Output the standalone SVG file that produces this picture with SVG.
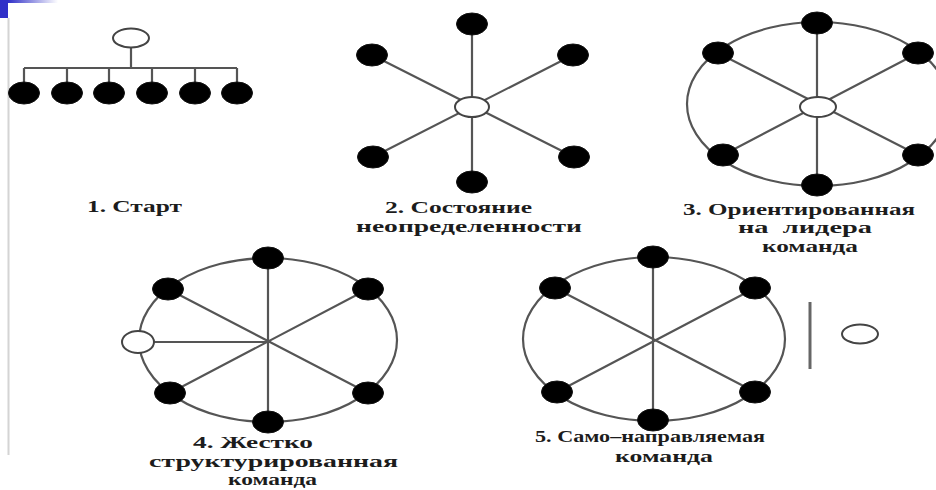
<svg xmlns="http://www.w3.org/2000/svg" width="936" height="490" viewBox="0 0 936 490">
<defs>
<linearGradient id="bar" x1="0" y1="0" x2="1" y2="0">
<stop offset="0" stop-color="#3030c8"/>
<stop offset="1" stop-color="#3030c8" stop-opacity="0"/>
</linearGradient>
</defs>
<style>
.blk{fill:#000;stroke:#111;stroke-width:1}
.wht{fill:#fff;stroke:#444;stroke-width:2}
.ln{stroke:#555;stroke-width:2.2;fill:none}
.rim{stroke:#555;stroke-width:2.2;fill:none}
.lbl{font-family:"Liberation Serif","DejaVu Serif",serif;font-weight:bold;font-size:16px;fill:#1c1c1c}
</style>
<rect x="0" y="0" width="936" height="490" fill="#fff"/>
<rect x="0" y="0" width="8" height="18" fill="#3030c8"/>
<rect x="8" y="0" width="50" height="3" fill="url(#bar)"/>
<line x1="8.5" y1="18" x2="8.5" y2="455" stroke="#d4d4d4" stroke-width="2"/>

<!-- Diagram 1 -->
<g id="d1-connectors">
<path class="ln" d="M131 47 V68 M24 68 H237 M24 68 V83 M67 68 V83 M109 68 V83 M152 68 V83 M195 68 V83 M237 68 V83"/>
</g>
<g id="d1-leader"><ellipse class="wht" cx="131" cy="38" rx="18" ry="9.5"/></g>
<g id="d1-n1"><ellipse class="blk" cx="24" cy="93" rx="15.5" ry="11"/></g>
<g id="d1-n2"><ellipse class="blk" cx="67" cy="93" rx="15.5" ry="11"/></g>
<g id="d1-n3"><ellipse class="blk" cx="109" cy="93" rx="15.5" ry="11"/></g>
<g id="d1-n4"><ellipse class="blk" cx="152" cy="93" rx="15.5" ry="11"/></g>
<g id="d1-n5"><ellipse class="blk" cx="195" cy="93" rx="15.5" ry="11"/></g>
<g id="d1-n6"><ellipse class="blk" cx="237" cy="93" rx="15.5" ry="11"/></g>
<text class="lbl" x="87" y="212" textLength="95" lengthAdjust="spacingAndGlyphs">1. Старт</text>

<!-- Diagram 2 -->
<g id="d2-connectors">
<path class="ln" d="M472 24 V182 M372 55 L574 157 M573 55 L373 157"/>
</g>
<g id="d2-leader"><ellipse class="wht" cx="472" cy="107" rx="17" ry="10"/></g>
<g id="d2-n1"><ellipse class="blk" cx="472" cy="24" rx="15.5" ry="11"/></g>
<g id="d2-n2"><ellipse class="blk" cx="372" cy="55" rx="15.5" ry="11"/></g>
<g id="d2-n3"><ellipse class="blk" cx="573" cy="55" rx="15.5" ry="11"/></g>
<g id="d2-n4"><ellipse class="blk" cx="373" cy="157" rx="15.5" ry="11"/></g>
<g id="d2-n5"><ellipse class="blk" cx="574" cy="157" rx="15.5" ry="11"/></g>
<g id="d2-n6"><ellipse class="blk" cx="472" cy="182" rx="15.5" ry="11"/></g>
<text class="lbl" x="385" y="213" textLength="147" lengthAdjust="spacingAndGlyphs">2. Состояние</text>
<text class="lbl" x="356" y="232" textLength="226" lengthAdjust="spacingAndGlyphs">неопределенности</text>

<!-- Diagram 3 -->
<g id="d3-connectors">
<ellipse class="rim" cx="818" cy="104" rx="131" ry="82"/>
<path class="ln" d="M817 23 V185 M718 53 L918 155 M918 53 L723 155"/>
</g>
<g id="d3-leader"><ellipse class="wht" cx="818" cy="107" rx="18" ry="10"/></g>
<g id="d3-n1"><ellipse class="blk" cx="817" cy="23" rx="15.5" ry="11"/></g>
<g id="d3-n2"><ellipse class="blk" cx="718" cy="53" rx="15.5" ry="11"/></g>
<g id="d3-n3"><ellipse class="blk" cx="918" cy="53" rx="15.5" ry="11"/></g>
<g id="d3-n4"><ellipse class="blk" cx="723" cy="155" rx="15.5" ry="11"/></g>
<g id="d3-n5"><ellipse class="blk" cx="918" cy="155" rx="15.5" ry="11"/></g>
<g id="d3-n6"><ellipse class="blk" cx="817" cy="185" rx="15.5" ry="11"/></g>
<text class="lbl" x="683" y="215" textLength="232" lengthAdjust="spacingAndGlyphs">3. Ориентированная</text>
<text class="lbl" x="738" y="233" textLength="134" lengthAdjust="spacingAndGlyphs" xml:space="preserve">на  лидера</text>
<text class="lbl" x="762" y="252" textLength="96" lengthAdjust="spacingAndGlyphs">команда</text>

<!-- Diagram 4 -->
<g id="d4-connectors">
<ellipse class="rim" cx="268" cy="340" rx="129" ry="82"/>
<path class="ln" d="M268 258 V422 M168 289 L368 393 M368 289 L170 393 M154 342 H268"/>
</g>
<g id="d4-leader"><ellipse class="wht" cx="138" cy="342" rx="16" ry="11"/></g>
<g id="d4-n1"><ellipse class="blk" cx="268" cy="258" rx="15.5" ry="11"/></g>
<g id="d4-n2"><ellipse class="blk" cx="168" cy="289" rx="15.5" ry="11"/></g>
<g id="d4-n3"><ellipse class="blk" cx="368" cy="289" rx="15.5" ry="11"/></g>
<g id="d4-n4"><ellipse class="blk" cx="170" cy="393" rx="15.5" ry="11"/></g>
<g id="d4-n5"><ellipse class="blk" cx="368" cy="393" rx="15.5" ry="11"/></g>
<g id="d4-n6"><ellipse class="blk" cx="268" cy="422" rx="15.5" ry="11"/></g>
<text class="lbl" x="193" y="448" textLength="120" lengthAdjust="spacingAndGlyphs">4. Жестко</text>
<text class="lbl" x="149" y="467" textLength="249" lengthAdjust="spacingAndGlyphs">структурированная</text>
<text class="lbl" x="228" y="485" textLength="89" lengthAdjust="spacingAndGlyphs">команда</text>

<!-- Diagram 5 -->
<g id="d5-connectors">
<ellipse class="rim" cx="654" cy="339" rx="131" ry="82"/>
<path class="ln" d="M653 257 V420 M555 288 L755 392 M755 288 L557 392"/>
<line x1="810" y1="302" x2="810" y2="369" stroke="#666" stroke-width="3"/>
</g>
<g id="d5-leader"><ellipse class="wht" cx="860" cy="334" rx="18" ry="9.5"/></g>
<g id="d5-n1"><ellipse class="blk" cx="653" cy="257" rx="15.5" ry="11"/></g>
<g id="d5-n2"><ellipse class="blk" cx="555" cy="288" rx="15.5" ry="11"/></g>
<g id="d5-n3"><ellipse class="blk" cx="755" cy="288" rx="15.5" ry="11"/></g>
<g id="d5-n4"><ellipse class="blk" cx="557" cy="392" rx="15.5" ry="11"/></g>
<g id="d5-n5"><ellipse class="blk" cx="755" cy="392" rx="15.5" ry="11"/></g>
<g id="d5-n6"><ellipse class="blk" cx="653" cy="420" rx="15.5" ry="11"/></g>
<text class="lbl" x="535" y="442" textLength="230" lengthAdjust="spacingAndGlyphs">5. Само–направляемая</text>
<text class="lbl" x="615" y="462" textLength="98" lengthAdjust="spacingAndGlyphs">команда</text>
</svg>
